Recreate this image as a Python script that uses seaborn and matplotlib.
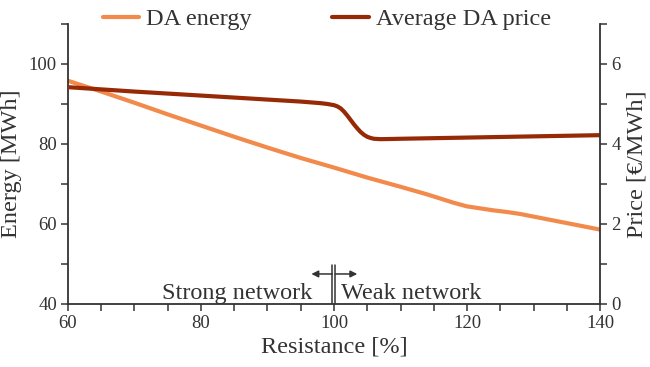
import matplotlib
matplotlib.use("Agg")
import matplotlib.pyplot as plt
import seaborn as sns
import pandas as pd

# ---- data ----
resistance_energy = [60, 65, 70, 75, 80, 85, 90, 95, 100, 105, 110, 114, 118, 120, 122, 124, 126, 128, 132, 136, 140]
da_energy = [95.8, 93.1, 90.3, 87.4, 84.6, 81.8, 79.1, 76.5, 74.1, 71.6, 69.3, 67.4, 65.3, 64.4, 63.9, 63.4, 63.0, 62.5, 61.2, 59.9, 58.6]

resistance_price = [60, 70, 80, 90, 95, 98, 99, 100, 100.5, 101, 101.5, 102, 102.5, 103, 103.5, 104, 104.5, 105, 105.5, 106, 107, 110, 120, 130, 140]
da_price = [5.42, 5.31, 5.21, 5.11, 5.06, 5.02, 5.0, 4.97, 4.94, 4.89, 4.81, 4.71, 4.60, 4.49, 4.39, 4.30, 4.23, 4.18, 4.15, 4.13, 4.12, 4.13, 4.16, 4.19, 4.22]

x_ticks = [60, 80, 100, 120, 140]
energy_ticks = [40, 60, 80, 100]
price_ticks = [0, 2, 4, 6]

series_names = ["DA energy", "Average DA price"]
region_labels = ["Strong network", "Weak network"]

# ---- style ----
sns.set_theme(style="ticks")
plt.rcParams["font.family"] = ["Liberation Serif", "DejaVu Serif"]
TXT = "#333333"
plt.rcParams.update({
    "axes.edgecolor": TXT, "xtick.color": TXT, "ytick.color": TXT,
    "axes.labelcolor": TXT, "text.color": TXT, "axes.linewidth": 1.3,
    "xtick.major.width": 1.1, "ytick.major.width": 1.1,
    "xtick.minor.width": 1.1, "ytick.minor.width": 1.1,
})
ORANGE = "#F28A4C"
DARK = "#962A06"

fig = plt.figure(figsize=(6.5, 3.67), dpi=100)
ax = fig.add_axes([0.1046, 0.1717, 0.8185, 0.763])

df_e = pd.DataFrame({"r": resistance_energy, "v": da_energy})
df_p = pd.DataFrame({"r": resistance_price, "v": da_price})

sns.lineplot(data=df_e, x="r", y="v", ax=ax, color=ORANGE, lw=3, label=series_names[0], legend=False)
ax2 = ax.twinx()
sns.lineplot(data=df_p, x="r", y="v", ax=ax2, color=DARK, lw=3, label=series_names[1], legend=False)

ax.set_xlim(60, 140)
ax.set_ylim(40, 110)
ax2.set_ylim(0, 7)
ax.set_xticks(x_ticks)
ax.set_xticks(range(60, 141, 5), minor=True)
ax.set_yticks(energy_ticks)
ax.set_yticks(range(40, 111, 10), minor=True)
ax2.set_yticks(price_ticks)
ax2.set_yticks(range(0, 8, 1), minor=True)

for a in (ax, ax2):
    a.spines["top"].set_visible(False)
    a.tick_params(which="both", direction="out", length=5, labelsize=13.5, pad=3)
ax.spines["right"].set_visible(False)
ax2.spines["left"].set_visible(False)
ax2.spines["bottom"].set_visible(False)

ax.set_xlabel("Resistance [%]", fontsize=17.5, labelpad=3)
ax.set_ylabel("Energy [MWh]", fontsize=17.5, labelpad=5)
ax2.set_ylabel("Price [€/MWh]", fontsize=17.5, labelpad=4)

# boundary annotation
ax.plot([99.75, 99.75], [40, 49.8], color=TXT, lw=1.1)
ax.plot([100.2, 100.2], [40, 49.8], color=TXT, lw=1.1)
ax.annotate("", xy=(96.6, 47.5), xytext=(99.75, 47.5),
            arrowprops=dict(arrowstyle="-|>", color=TXT, lw=1.1, mutation_scale=10, shrinkA=0, shrinkB=0))
ax.annotate("", xy=(103.5, 47.5), xytext=(100.2, 47.5),
            arrowprops=dict(arrowstyle="-|>", color=TXT, lw=1.1, mutation_scale=10, shrinkA=0, shrinkB=0))
ax.text(96.8, 41.2, region_labels[0], ha="right", va="baseline", fontsize=17.5)
ax.text(101.0, 41.2, region_labels[1], ha="left", va="baseline", fontsize=17.5)

h1, l1 = ax.get_legend_handles_labels()
h2, l2 = ax2.get_legend_handles_labels()
fig.legend(h1 + h2, l1 + l2, loc="center", bbox_to_anchor=(0.503, 0.948), ncol=2,
           frameon=False, fontsize=17.5, handlelength=1.5, handletextpad=0.3,
           columnspacing=3.3, borderpad=0, borderaxespad=0)

fig.savefig("out.png", dpi=100)
